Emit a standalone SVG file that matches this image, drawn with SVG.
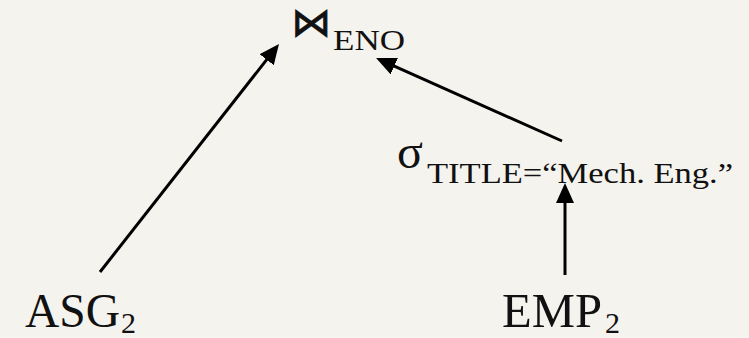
<svg xmlns="http://www.w3.org/2000/svg" width="749" height="338" viewBox="0 0 749 338">
  <style>
    .lbl { font-family: "Liberation Serif", "Times New Roman", serif; fill: #111; }
    .big { font-size: 48px; }
    .sub { font-size: 30px; }
    .sym { font-family: "DejaVu Sans", sans-serif; fill: #111; }
    .edge { stroke: #000; stroke-width: 3; fill: none; marker-end: url(#head); }
  </style>
  <defs>
    <marker id="head" markerUnits="userSpaceOnUse" markerWidth="20" markerHeight="18" refX="8" refY="9" orient="auto">
      <path d="M0,0 L20,9 L0,18 z" fill="#000"/>
    </marker>
  </defs>
  <rect width="749" height="338" fill="#f5f3ee"/>

  <!-- join on ENO -->
  <g id="join">
    <text class="sym" x="311.5" y="36" font-size="40" text-anchor="middle" stroke="#111" stroke-width="0.8">⋈</text>
    <text class="lbl sub" x="333" y="50" textLength="72" lengthAdjust="spacingAndGlyphs">ENO</text>
  </g>

  <!-- selection on TITLE -->
  <g id="select">
    <text class="lbl big" x="397" y="168" font-size="50">σ</text>
    <text class="lbl sub" x="427" y="183" textLength="306" lengthAdjust="spacingAndGlyphs">TITLE=“Mech. Eng.”</text>
  </g>

  <!-- base relations -->
  <g id="asg2">
    <text class="lbl big" x="25" y="327" textLength="95" lengthAdjust="spacingAndGlyphs">ASG</text>
    <text class="lbl sub" x="121" y="333">2</text>
  </g>
  <g id="emp2">
    <text class="lbl big" x="502" y="327" textLength="100" lengthAdjust="spacingAndGlyphs">EMP</text>
    <text class="lbl sub" x="605" y="333">2</text>
  </g>

  <!-- edges point from operand to operator -->
  <g id="edges">
    <line class="edge" x1="100" y1="272" x2="271.6" y2="53.4"/>
    <line class="edge" x1="562" y1="141" x2="387" y2="62.9"/>
    <line class="edge" x1="565" y1="275" x2="565" y2="195"/>
  </g>
</svg>
